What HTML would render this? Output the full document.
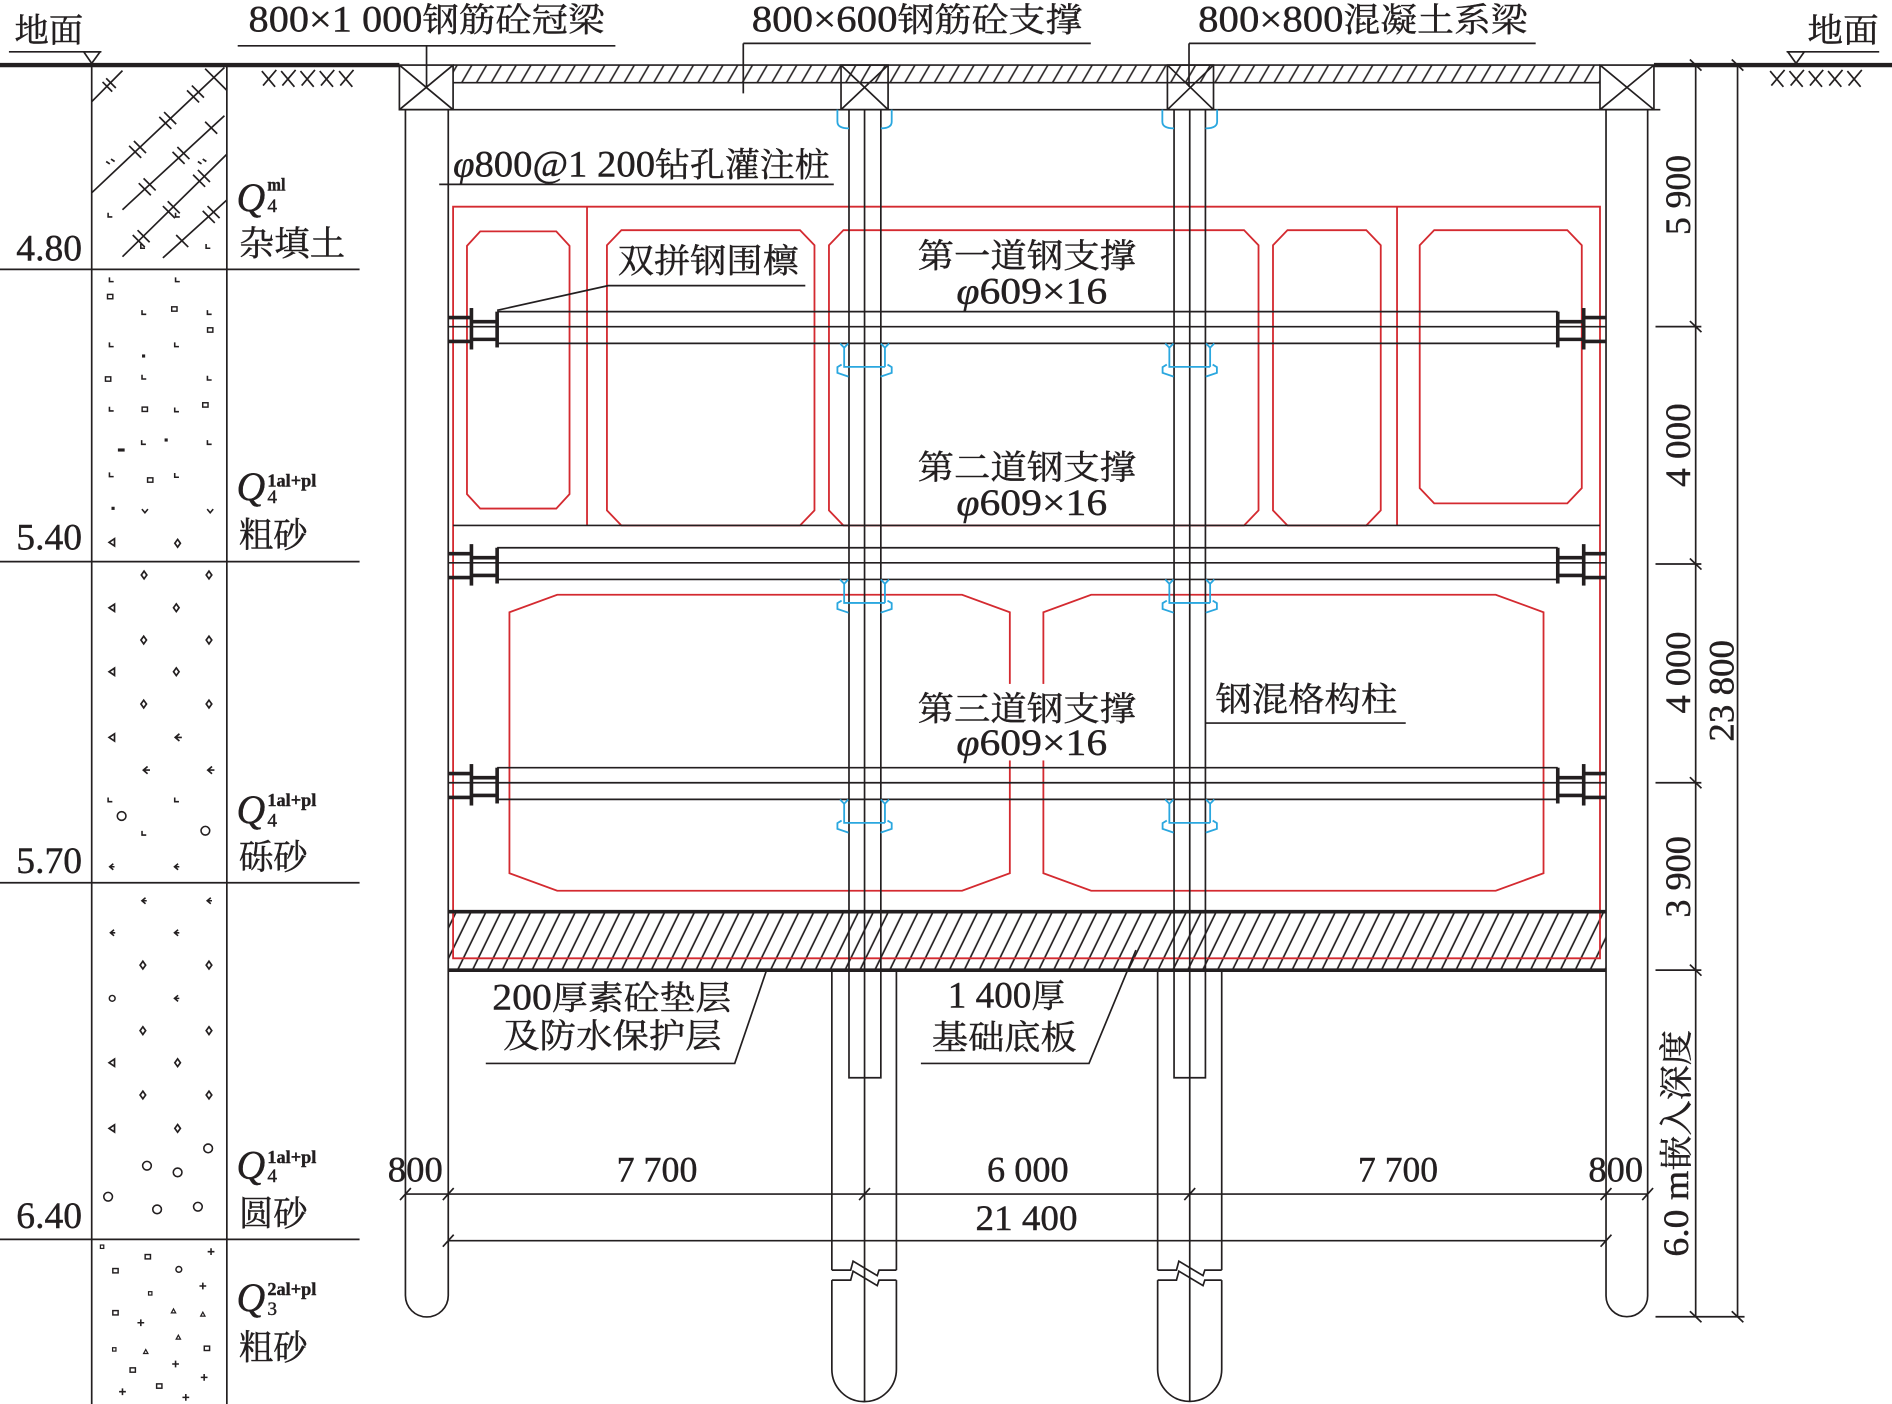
<!DOCTYPE html>
<html><head><meta charset="utf-8">
<style>
html,body{margin:0;padding:0;background:#fff;}
svg{display:block;}
text{font-family:"Liberation Serif","Noto Serif CJK SC",serif;fill:#231f20;stroke:#231f20;stroke-width:0.35;}
</style></head><body>
<svg width="1892" height="1404" viewBox="0 0 1568 1165" preserveAspectRatio="none" xmlns="http://www.w3.org/2000/svg" xmlns:xlink="http://www.w3.org/1999/xlink">
<defs>
<pattern id="hc" patternUnits="userSpaceOnUse" width="10.6" height="30" patternTransform="rotate(30)">
<line x1="5.3" y1="0" x2="5.3" y2="30" stroke="#231f20" stroke-width="1.3"/>
</pattern>
<pattern id="hs" patternUnits="userSpaceOnUse" width="11.1" height="60" patternTransform="rotate(26)">
<line x1="5.5" y1="0" x2="5.5" y2="60" stroke="#231f20" stroke-width="1.4"/>
</pattern>
<g id="sL"><path d="M0,-3.5 V0 H3.5" fill="none" stroke="#231f20" stroke-width="1.3"/></g>
<g id="sSq"><rect x="-2.2" y="-1.8" width="4.4" height="3.6" fill="none" stroke="#231f20" stroke-width="1.2"/></g>
<g id="sTiny"><rect x="-1.4" y="-1.4" width="2.8" height="2.8" fill="none" stroke="#231f20" stroke-width="1"/></g>
<g id="sDot"><rect x="-1.3" y="-1.3" width="2.6" height="2.6" fill="#231f20"/></g>
<g id="sDash"><rect x="-2.8" y="-1.3" width="5.6" height="2.6" fill="#231f20"/></g>
<g id="sDia"><path d="M0,-3.2 L2.3,0 L0,3.2 L-2.3,0 Z" fill="none" stroke="#231f20" stroke-width="1.4"/></g>
<g id="sTri"><path d="M2.5,-3 L-2,0 L2.5,3 Z" fill="none" stroke="#231f20" stroke-width="1.4"/></g>
<g id="sArr"><path d="M1.5,-3 L-2,0 L1.5,3 M-2,0 H3.5" fill="none" stroke="#231f20" stroke-width="1.4"/></g>
<g id="sArrS"><path d="M1.5,-2.5 L-1.5,0 L1.5,2.5 M-1,0 H2.5" fill="none" stroke="#231f20" stroke-width="1.3"/></g>
<g id="sV"><path d="M-2.5,-1.5 L0,1.5 L2.5,-1.5" fill="none" stroke="#231f20" stroke-width="1.3"/></g>
<g id="sC"><circle r="3.6" fill="none" stroke="#231f20" stroke-width="1.3"/></g>
<g id="sCs"><circle r="2.4" fill="none" stroke="#231f20" stroke-width="1.2"/></g>
<g id="sP"><path d="M-2.8,0 H2.8 M0,-2.8 V2.8" fill="none" stroke="#231f20" stroke-width="1.3"/></g>
<g id="sT2"><path d="M0,-1.8 L1.8,1.5 L-1.8,1.5 Z" fill="none" stroke="#231f20" stroke-width="1"/></g>
</defs>

<rect x="0" y="0" width="1568" height="1165" fill="#fff"/>

<!-- slab hatch -->
<rect x="371.5" y="756.5" width="959.5" height="48.5" fill="url(#hs)"/>
<!-- crown beam hatch -->
<rect x="375.5" y="54" width="950.5" height="14.6" fill="url(#hc)"/>

<!-- RED -->
<g fill="none" stroke="#d42a30" stroke-width="1.5">
<path d="M375.5,795.2 V171.5 H1326 V795.2 Z"/>
<line x1="486.5" y1="171.5" x2="486.5" y2="436"/>
<line x1="1157.8" y1="171.5" x2="1157.8" y2="436"/>
<polygon points="398,192 461,192 472,204 472,410 461,422 398,422 387,410 387,204"/>
<polygon points="515,191 663,191 675,203.5 675,423.5 663,436 515,436 503,423.5 503,203.5"/>
<polygon points="699,191 1031,191 1043,203.5 1043,423.5 1031,436 699,436 687,423.5 687,203.5"/>
<polygon points="1067,191 1132.3,191 1144.3,203.5 1144.3,423.5 1132.3,436 1067,436 1055,423.5 1055,203.5"/>
<polygon points="1188.6,191 1298.9,191 1310.9,203.5 1310.9,405 1298.9,417.7 1188.6,417.7 1176.6,405 1176.6,203.5"/>
<polygon points="461.8,493.5 797.3,493.5 836.9,508 836.9,724.6 797.3,739.1 461.8,739.1 422.2,724.6 422.2,508"/>
<polygon points="904.3,493.5 1239.6,493.5 1279.2,508 1279.2,724.6 1239.6,739.1 904.3,739.1 864.7,724.6 864.7,508"/>
</g>
<!-- mask behind third-strut text -->
<rect x="832" y="567.5" width="37" height="63.5" fill="#fff"/>

<!-- BLACK main -->
<g fill="none" stroke="#231f20" stroke-width="1.4">
<line x1="0" y1="54" x2="331" y2="54" stroke-width="3.6"/>
<line x1="1370.7" y1="54" x2="1568" y2="54" stroke-width="3.6"/>
<line x1="7.4" y1="43" x2="84" y2="43"/>
<polygon points="69.4,43 82.9,43 76,52.6"/>
<line x1="1480.7" y1="43" x2="1557.4" y2="43"/>
<polygon points="1481.7,43 1495.3,43 1488.5,52.6"/>
<path d="M217,59 L228,72 M218,71 L229,58 M233,59 L244,72 M234,71 L245,58 M249,59 L260,72 M250,71 L261,58 M265,59 L276,72 M266,71 L277,58 M281,59 L292,72 M282,71 L293,58"/>
<path d="M1467,59 L1478,72 M1468,71 L1479,58 M1483,59 L1494,72 M1484,71 L1495,58 M1499,59 L1510,72 M1500,71 L1511,58 M1515,59 L1526,72 M1516,71 L1527,58 M1531,59 L1542,72 M1532,71 L1543,58"/>

<line x1="375.5" y1="54" x2="1326" y2="54"/>
<line x1="375.5" y1="68.6" x2="1326" y2="68.6"/>
<line x1="331" y1="91" x2="1376" y2="91"/>
<rect x="331" y="54" width="44.5" height="37"/>
<path d="M331,54 L375.5,91 M375.5,54 L331,91"/>
<rect x="1326" y="54" width="44.7" height="37"/>
<path d="M1326,54 L1370.7,91 M1370.7,54 L1326,91"/>
<rect x="697" y="54" width="39" height="37"/>
<path d="M697,54 L736,91 M736,54 L697,91"/>
<rect x="967.5" y="54" width="38.2" height="37"/>
<path d="M967.5,54 L1005.7,91 M1005.7,54 L967.5,91"/>

<path d="M336,91 V1075 A17.75,17.75 0 0 0 371.5,1075 V91"/>
<path d="M1331,91 V1075.3 A17.25,17.25 0 0 0 1365.5,1075.3 V91"/>

<path d="M703.6,91 V894.3 H730 V91"/>
<line x1="716.5" y1="91" x2="716.5" y2="1163"/>
<path d="M973,91 V894.3 H999 V91"/>
<line x1="986" y1="91" x2="986" y2="1163"/>

<path d="M689.4,805 V1053.9 M742.9,805 V1053.9"/>
<path d="M689.4,1062.2 V1136.3 A26.75,26.75 0 0 0 742.9,1136.3 V1062.2"/>
<path d="M689.4,1053.9 H705 L707,1046.5 L727,1058.5 L728.5,1053.9 H742.9"/>
<path d="M689.4,1062.2 H705 L707,1054.8 L727,1066.8 L728.5,1062.2 H742.9"/>
<path d="M959.4,805 V1053.9 M1012.5,805 V1053.9"/>
<path d="M959.4,1062.2 V1136.3 A26.55,26.55 0 0 0 1012.5,1136.3 V1062.2"/>
<path d="M959.4,1053.9 H975 L977,1046.5 L997,1058.5 L998.5,1053.9 H1012.5"/>
<path d="M959.4,1062.2 H975 L977,1054.8 L997,1066.8 L998.5,1062.2 H1012.5"/>

<line x1="375.5" y1="436" x2="1326" y2="436"/>

<line x1="371.5" y1="756.5" x2="1331" y2="756.5" stroke-width="3"/>
<line x1="371.5" y1="805" x2="1331" y2="805" stroke-width="3"/>

<line x1="76" y1="54" x2="76" y2="1165"/>
<line x1="188" y1="54" x2="188" y2="1165"/>
<line x1="0" y1="223.5" x2="298" y2="223.5"/>
<line x1="0" y1="466" x2="298" y2="466"/>
<line x1="0" y1="732.5" x2="298" y2="732.5"/>
<line x1="0" y1="1028.4" x2="298" y2="1028.4"/>
<path d="M76,84.4 L101.5,58.6 M76,160 L186,56 M101.5,174 L186,96 M101.5,213 L188,128 M135,214 L188,166 M170,57 L188,75"/>
<path d="M85,68 L93,76 M88,65 L96,73
 M107,121 L117,131 M111,117 L121,127
 M132,97 L142,107 M136,93 L146,103
 M155,75 L165,85 M159,71 L169,81
 M115,152 L125,162 M119,148 L129,158
 M143,126 L153,136 M147,122 L157,132
 M170,101 L180,111
 M110,195 L120,205 M114,191 L124,201
 M135,171 L145,181 M139,167 L149,177
 M160,145 L170,155 M164,141 L174,151
 M146,195 L156,205 M168,175 L178,185 M172,171 L182,181"/>
<path d="M88,134 L91,136 M92,132 L95,134 M164,134 L167,136 M168,132 L171,134"/>

<line x1="336" y1="990.8" x2="1365.5" y2="990.8"/>
<line x1="371.5" y1="1029.5" x2="1331" y2="1029.5"/>
<path d="M331.5,995.8 L340.5,985.8 M367,995.8 L376,985.8 M712,995.8 L721,985.8 M981.5,995.8 L990.5,985.8 M1326.5,995.8 L1335.5,985.8 M1361,995.8 L1370,985.8"/>
<path d="M367,1034.5 L376,1024.5 M1326.5,1034.5 L1335.5,1024.5"/>

<line x1="1405.3" y1="54" x2="1405.3" y2="1092.6"/>
<line x1="1440" y1="54" x2="1440" y2="1092.6"/>
<path d="M1372,271 H1410 M1372,468 H1410 M1372,649.5 H1410 M1372,805 H1410 M1372,1092.6 H1445.8"/>
<path d="M1400.5,49.4 L1410.1,58.6 M1435.2,49.4 L1444.8,58.6
 M1400.5,266.4 L1410.1,275.6 M1400.5,463.4 L1410.1,472.6 M1400.5,644.9 L1410.1,654.1 M1400.5,800.4 L1410.1,809.6
 M1400.5,1088 L1410.1,1097.2 M1435.2,1088 L1444.8,1097.2"/>

<path d="M197,38 H510 M353.5,38 V72.5"/>
<path d="M616,36 H904 M616,36 V77.5"/>
<path d="M985.4,36 H1272.7 M985.4,36 V72"/>
<path d="M364,153 H691"/>
<path d="M412,257.5 L504,237 H667.4"/>
<path d="M999,600 H1165"/>
<path d="M402.6,882.4 H608.9 L635.3,805"/>
<path d="M763.2,882.4 H902.5 L941.4,788.3"/>
</g>

<!-- soil symbols -->
<g>
<use xlink:href="#sL" x="90.7" y="233.7"/><use xlink:href="#sL" x="145.5" y="233.7"/><use xlink:href="#sL" x="117.7" y="260.8"/><use xlink:href="#sL" x="171.9" y="260.8"/><use xlink:href="#sL" x="90.7" y="287.6"/><use xlink:href="#sL" x="144.8" y="287.6"/><use xlink:href="#sL" x="117.7" y="314.5"/><use xlink:href="#sL" x="171.9" y="315.3"/><use xlink:href="#sL" x="90.7" y="341"/><use xlink:href="#sL" x="144.8" y="341.6"/><use xlink:href="#sL" x="117.4" y="368.7"/><use xlink:href="#sL" x="171.9" y="368.7"/><use xlink:href="#sL" x="90.7" y="395.5"/><use xlink:href="#sL" x="144.8" y="396"/>
<use xlink:href="#sL" x="89.6" y="180"/><use xlink:href="#sL" x="145.5" y="180"/><use xlink:href="#sL" x="116.7" y="206"/><use xlink:href="#sL" x="170.8" y="206"/>
<use xlink:href="#sSq" x="91.3" y="246.1"/><use xlink:href="#sSq" x="144.5" y="256.4"/><use xlink:href="#sSq" x="174.2" y="273.8"/><use xlink:href="#sSq" x="89.6" y="314.5"/><use xlink:href="#sSq" x="120" y="339.6"/><use xlink:href="#sSq" x="170.2" y="336"/><use xlink:href="#sSq" x="124.5" y="398.3"/>
<use xlink:href="#sDot" x="119" y="295.4"/><use xlink:href="#sDot" x="137.7" y="365.1"/><use xlink:href="#sDot" x="93.7" y="421.8"/>
<use xlink:href="#sDash" x="100.5" y="373.4"/>
<use xlink:href="#sV" x="120.1" y="424"/><use xlink:href="#sV" x="174.2" y="424"/>
<use xlink:href="#sTri" x="92.4" y="450"/><use xlink:href="#sDia" x="147.2" y="450.8"/>

<use xlink:href="#sDia" x="119.4" y="477.1"/><use xlink:href="#sDia" x="173.2" y="477.1"/><use xlink:href="#sDia" x="146.1" y="504.3"/><use xlink:href="#sDia" x="119.1" y="531.1"/><use xlink:href="#sDia" x="173.2" y="531.1"/><use xlink:href="#sDia" x="146.1" y="557.4"/><use xlink:href="#sDia" x="119.1" y="584.2"/><use xlink:href="#sDia" x="173.2" y="584.2"/>
<use xlink:href="#sTri" x="92.4" y="504.3"/><use xlink:href="#sTri" x="92.4" y="557.4"/><use xlink:href="#sTri" x="92.4" y="611.9"/>
<use xlink:href="#sArr" x="147.2" y="611.9"/><use xlink:href="#sArr" x="120.8" y="639"/><use xlink:href="#sArr" x="174.2" y="639"/>
<use xlink:href="#sL" x="89.6" y="665.2"/><use xlink:href="#sL" x="144.8" y="665.2"/><use xlink:href="#sL" x="117.7" y="692.9"/>
<use xlink:href="#sC" x="100.8" y="677.1"/><use xlink:href="#sC" x="170.2" y="689.3"/>
<use xlink:href="#sArrS" x="92.4" y="719.2"/><use xlink:href="#sArrS" x="146.1" y="719.2"/>

<use xlink:href="#sArrS" x="119.1" y="747.4"/><use xlink:href="#sArrS" x="173.2" y="747.4"/><use xlink:href="#sArrS" x="93" y="774"/><use xlink:href="#sArrS" x="146.1" y="774"/><use xlink:href="#sArrS" x="146.1" y="828.4"/>
<use xlink:href="#sDia" x="118.4" y="800.8"/><use xlink:href="#sDia" x="173.2" y="800.8"/><use xlink:href="#sDia" x="118.4" y="855.2"/><use xlink:href="#sDia" x="173.2" y="855.2"/><use xlink:href="#sDia" x="147.2" y="881.8"/><use xlink:href="#sDia" x="118.4" y="908.6"/><use xlink:href="#sDia" x="173.2" y="908.6"/><use xlink:href="#sDia" x="147.2" y="936.3"/>
<use xlink:href="#sCs" x="93" y="828.4"/>
<use xlink:href="#sTri" x="92.4" y="881.8"/><use xlink:href="#sTri" x="92.4" y="936.3"/>
<use xlink:href="#sC" x="172.5" y="952.9"/><use xlink:href="#sC" x="121.8" y="967.3"/><use xlink:href="#sC" x="147.2" y="972.8"/><use xlink:href="#sC" x="89.6" y="993"/><use xlink:href="#sC" x="130.2" y="1003.5"/><use xlink:href="#sC" x="164" y="1001.3"/>

<use xlink:href="#sTiny" x="84.6" y="1034.5"/><use xlink:href="#sTiny" x="124.5" y="1073.2"/><use xlink:href="#sTiny" x="94.7" y="1119.7"/>
<use xlink:href="#sSq" x="122.5" y="1042.8"/><use xlink:href="#sSq" x="95.7" y="1054.4"/><use xlink:href="#sSq" x="95.7" y="1089.3"/><use xlink:href="#sSq" x="171.5" y="1118.8"/><use xlink:href="#sSq" x="110" y="1136.8"/><use xlink:href="#sSq" x="132" y="1150.1"/>
<use xlink:href="#sP" x="174.9" y="1038.6"/><use xlink:href="#sP" x="168.1" y="1067.1"/><use xlink:href="#sP" x="116.7" y="1097.6"/><use xlink:href="#sP" x="145.5" y="1131.8"/><use xlink:href="#sP" x="169.2" y="1142.9"/><use xlink:href="#sP" x="101.5" y="1154.8"/><use xlink:href="#sP" x="154" y="1159.5"/>
<use xlink:href="#sCs" x="148.2" y="1053.3"/><use xlink:href="#sT2" x="143.8" y="1087.9"/><use xlink:href="#sT2" x="168.1" y="1090.6"/><use xlink:href="#sT2" x="147.8" y="1109.7"/><use xlink:href="#sT2" x="120.8" y="1121.6"/>
</g>

<!-- blue top hooks -->
<g fill="none" stroke="#2aa7df" stroke-width="1.5">
<path d="M694,91 V101 Q694,106.5 703.6,106.5 M739,91 V101 Q739,106.5 730,106.5"/>
<path d="M963.3,91 V101 Q963.3,106.5 973,106.5 M1008.7,91 V101 Q1008.7,106.5 999,106.5"/>
</g>

<!-- struts -->
<g id="strut">
<g fill="none" stroke="#231f20" stroke-width="1.4">
<line x1="412" y1="258.6" x2="1291" y2="258.6"/>
<line x1="371.5" y1="271.1" x2="1331" y2="271.1"/>
<line x1="412" y1="284.9" x2="1291" y2="284.9"/>
<line x1="371.5" y1="263.5" x2="390.7" y2="263.5" stroke-width="3"/>
<line x1="371.5" y1="283.3" x2="390.7" y2="283.3" stroke-width="3"/>
<line x1="390.7" y1="266.9" x2="412" y2="266.9" stroke-width="3"/>
<line x1="390.7" y1="281.6" x2="412" y2="281.6" stroke-width="3"/>
<line x1="1291" y1="266.9" x2="1312.5" y2="266.9" stroke-width="3"/>
<line x1="1291" y1="281.6" x2="1312.5" y2="281.6" stroke-width="3"/>
<line x1="1312.5" y1="263.5" x2="1331" y2="263.5" stroke-width="3"/>
<line x1="1312.5" y1="283.3" x2="1331" y2="283.3" stroke-width="3"/>
</g>
<rect x="389.2" y="255.6" width="3" height="34.4" fill="#231f20"/>
<rect x="410.5" y="258.6" width="3" height="29.7" fill="#231f20"/>
<rect x="1289.5" y="258.6" width="3" height="29.7" fill="#231f20"/>
<rect x="1311" y="255.6" width="3" height="34.4" fill="#231f20"/>
<g fill="none" stroke="#2aa7df" stroke-width="1.5">
<path d="M696.2,285 L699.6,288.5 L703,285 M699.6,288.5 V304.4 H733.4 M733.4,288.5 V304.4 M730,285 L733.4,288.5 L736.8,285
 M697.5,302.5 L694,304.6 V309.4 L703.2,312.5 M735.5,302.5 L739,304.6 V309.4 L729.8,312.5"/>
<path d="M965.7,285 L969.1,288.5 L972.5,285 M969.1,288.5 V304.4 H1002.9 M1002.9,288.5 V304.4 M999.5,285 L1002.9,288.5 L1006.3,285
 M967,302.5 L963.5,304.6 V309.4 L972.7,312.5 M1005,302.5 L1008.5,304.6 V309.4 L999.3,312.5"/>
</g>
</g>
<use xlink:href="#strut" x="0" y="195.9"/>
<use xlink:href="#strut" x="0" y="378.4"/>

<!-- TEXT -->
<g font-size="28">
<text x="12" y="35" textLength="57" lengthAdjust="spacingAndGlyphs">地面</text>
<text x="1498" y="35" textLength="59" lengthAdjust="spacingAndGlyphs">地面</text>
<text x="206" y="26" textLength="295" lengthAdjust="spacingAndGlyphs"><tspan font-size="31">800×1 000</tspan>钢筋砼冠梁</text>
<text x="623" y="26" textLength="274" lengthAdjust="spacingAndGlyphs"><tspan font-size="31">800×600</tspan>钢筋砼支撑</text>
<text x="993" y="26" textLength="273" lengthAdjust="spacingAndGlyphs"><tspan font-size="31">800×800</tspan>混凝土系梁</text>
<text x="375.5" y="146.6" textLength="312" lengthAdjust="spacingAndGlyphs"><tspan font-size="31" font-style="italic">φ</tspan><tspan font-size="31">800@1 200</tspan>钻孔灌注桩</text>
<text x="512" y="226" textLength="150" lengthAdjust="spacingAndGlyphs">双拼钢围檩</text>
<text x="760.5" y="222" textLength="181" lengthAdjust="spacingAndGlyphs">第一道钢支撑</text>
<text x="792.6" y="251.7" font-size="31" textLength="125" lengthAdjust="spacingAndGlyphs"><tspan font-style="italic">φ</tspan>609×16</text>
<text x="760.5" y="397.5" textLength="181" lengthAdjust="spacingAndGlyphs">第二道钢支撑</text>
<text x="792.6" y="427.4" font-size="31" textLength="125" lengthAdjust="spacingAndGlyphs"><tspan font-style="italic">φ</tspan>609×16</text>
<text x="760.5" y="598" textLength="181" lengthAdjust="spacingAndGlyphs">第三道钢支撑</text>
<text x="792.6" y="626.5" font-size="31" textLength="125" lengthAdjust="spacingAndGlyphs"><tspan font-style="italic">φ</tspan>609×16</text>
<text x="1007.4" y="590" textLength="150.5" lengthAdjust="spacingAndGlyphs">钢混格构柱</text>
<text x="408" y="837.5" textLength="198" lengthAdjust="spacingAndGlyphs"><tspan font-size="31">200</tspan>厚素砼垫层</text>
<text x="417" y="869" textLength="181" lengthAdjust="spacingAndGlyphs">及防水保护层</text>
<text x="785.5" y="836" textLength="97" lengthAdjust="spacingAndGlyphs"><tspan font-size="31">1 400</tspan>厚</text>
<text x="772.3" y="870.5" textLength="120" lengthAdjust="spacingAndGlyphs">基础底板</text>
</g>

<g font-size="30">
<text x="321.4" y="980.5" textLength="45.6" lengthAdjust="spacingAndGlyphs">800</text>
<text x="511" y="980.5" textLength="67" lengthAdjust="spacingAndGlyphs">7 700</text>
<text x="818" y="980.5" textLength="67.6" lengthAdjust="spacingAndGlyphs">6 000</text>
<text x="1125.5" y="980.5" textLength="66.3" lengthAdjust="spacingAndGlyphs">7 700</text>
<text x="1316.4" y="980.5" textLength="45.3" lengthAdjust="spacingAndGlyphs">800</text>
<text x="808.5" y="1020.5" textLength="84.5" lengthAdjust="spacingAndGlyphs">21 400</text>
</g>

<g font-size="30" text-anchor="middle">
<text transform="translate(1400.5,161.8) rotate(-90)" textLength="66.4" lengthAdjust="spacingAndGlyphs">5 900</text>
<text transform="translate(1400.5,369.3) rotate(-90)" textLength="69.4" lengthAdjust="spacingAndGlyphs">4 000</text>
<text transform="translate(1400.5,558) rotate(-90)" textLength="68" lengthAdjust="spacingAndGlyphs">4 000</text>
<text transform="translate(1400.5,727.6) rotate(-90)" textLength="67.7" lengthAdjust="spacingAndGlyphs">3 900</text>
<text transform="translate(1436.5,573.2) rotate(-90)" textLength="84.3" lengthAdjust="spacingAndGlyphs">23 800</text>
<text transform="translate(1399,948.7) rotate(-90)" font-size="28" textLength="188" lengthAdjust="spacingAndGlyphs"><tspan font-size="30">6.0 m</tspan>嵌入深度</text>
</g>

<g>
<g font-size="31">
<text x="13.5" y="216" textLength="54.5" lengthAdjust="spacingAndGlyphs">4.80</text>
<text x="13.5" y="456" textLength="54.5" lengthAdjust="spacingAndGlyphs">5.40</text>
<text x="13.5" y="724.5" textLength="54.5" lengthAdjust="spacingAndGlyphs">5.70</text>
<text x="13.5" y="1019" textLength="54.5" lengthAdjust="spacingAndGlyphs">6.40</text>
</g>
<g font-size="29">
<text x="198" y="212" textLength="88" lengthAdjust="spacingAndGlyphs">杂填土</text>
<text x="198" y="454" textLength="57" lengthAdjust="spacingAndGlyphs">粗砂</text>
<text x="198" y="721" textLength="57" lengthAdjust="spacingAndGlyphs">砾砂</text>
<text x="198" y="1017" textLength="57" lengthAdjust="spacingAndGlyphs">圆砂</text>
<text x="198" y="1128" textLength="57" lengthAdjust="spacingAndGlyphs">粗砂</text>
</g>
<g font-size="33" font-style="italic">
<text x="196" y="175">Q</text>
<text x="196" y="415">Q</text>
<text x="196" y="683">Q</text>
<text x="196" y="978">Q</text>
<text x="196" y="1088">Q</text>
</g>
<g font-size="15" font-weight="bold">
<text x="221.6" y="158" textLength="15" lengthAdjust="spacingAndGlyphs">ml</text>
<text x="221.6" y="403.5" textLength="40.6" lengthAdjust="spacingAndGlyphs">1al+pl</text>
<text x="221.6" y="669" textLength="40.6" lengthAdjust="spacingAndGlyphs">1al+pl</text>
<text x="221.6" y="965" textLength="40.6" lengthAdjust="spacingAndGlyphs">1al+pl</text>
<text x="221.6" y="1074.5" textLength="40.6" lengthAdjust="spacingAndGlyphs">2al+pl</text>
</g>
<g font-size="16">
<text x="221.6" y="176">4</text>
<text x="221.6" y="417.5">4</text>
<text x="221.6" y="686">4</text>
<text x="221.6" y="981">4</text>
<text x="221.6" y="1091">3</text>
</g>
</g>
</svg>
</body></html>
